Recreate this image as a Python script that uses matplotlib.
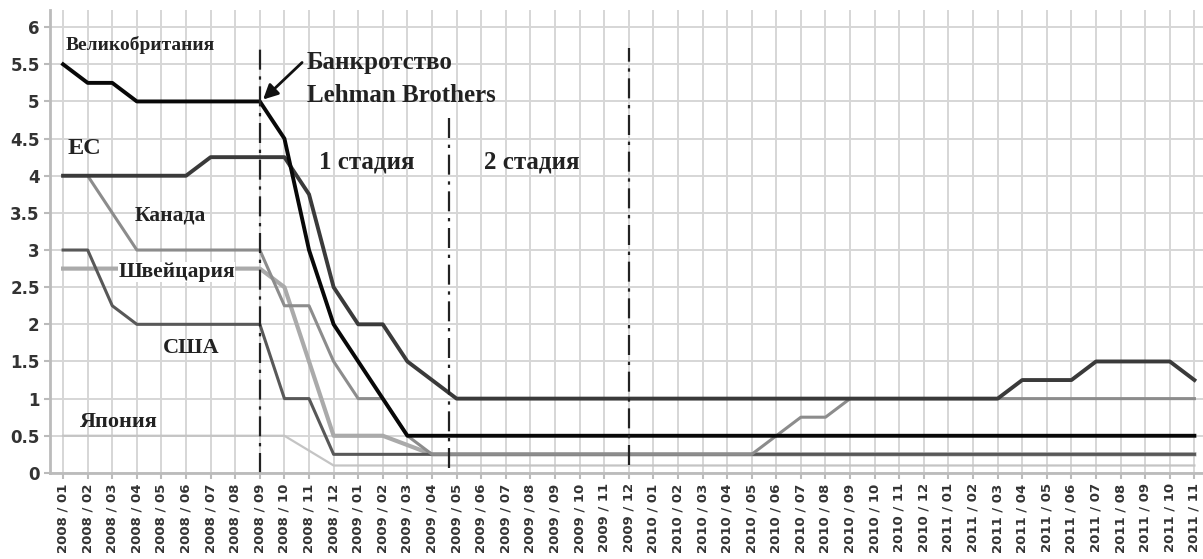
## ставки центральных банков 2008-2011

import matplotlib.pyplot as plt

months = [f"{y} / {m:02d}" for y in range(2008, 2012) for m in range(1, 13)][:47]

uk = [5.5, 5.25, 5.25, 5.0, 5.0, 5.0, 5.0, 5.0, 5.0, 4.5, 3.0, 2.0, 1.5, 1.0, 0.5] + [0.5] * 32
ecb = [4.0, 4.0, 4.0, 4.0, 4.0, 4.0, 4.25, 4.25, 4.25, 4.25, 3.75, 2.5, 2.0, 2.0, 1.5, 1.25] + [1.0] * 22 + \
      [1.0, 1.25, 1.25, 1.25, 1.5, 1.5, 1.5, 1.5, 1.25]
canada = [4.0, 4.0, 3.5, 3.0, 3.0, 3.0, 3.0, 3.0, 3.0, 2.25, 2.25, 1.5, 1.0, 1.0, 0.5] + [0.25] * 13 + \
         [0.25, 0.5, 0.75, 0.75] + [1.0] * 15
swiss = [2.75] * 9 + [2.5, 1.5, 0.5, 0.5, 0.5, 0.375] + [0.25] * 32
usa = [3.0, 3.0, 2.25, 2.0, 2.0, 2.0, 2.0, 2.0, 2.0, 1.0, 1.0] + [0.25] * 36
japan = [0.5] * 10 + [0.3] + [0.1] * 36

x = list(range(len(months)))

fig = plt.figure(figsize=(12.03, 5.59), dpi=100)
ax = fig.add_axes([0.0416, 0.154, 0.958, 0.828])

ax.plot(x, japan, color='#c4c4c4', lw=1.6)
ax.plot(x, swiss, color='#aaaaaa', lw=3)
ax.plot(x, usa, color='#585858', lw=2.2)
ax.plot(x, canada, color='#8c8c8c', lw=2.2)
ax.plot(x, ecb, color='#3a3a3a', lw=2.8)
ax.plot(x, uk, color='#080808', lw=2.8)

# стадии кризиса
dash = (0, (9, 3, 1.5, 3))
ax.plot([8, 8], [0, 5.79], color='#222222', lw=1.6, linestyle=dash)
ax.plot([15.7, 15.7], [0.07, 4.78], color='#222222', lw=1.6, linestyle=dash)
ax.plot([23, 23], [0.1, 5.72], color='#222222', lw=1.6, linestyle=dash)

serif = dict(family='Liberation Serif', fontweight='bold', color='#222222')
ax.text(0.12, 5.76, 'Великобритания', fontsize=14, va='center', ha='left', **serif)
ax.text(0.2, 4.37, 'ЕС', fontsize=17.5, va='center', ha='left', **serif)
ax.text(2.9, 3.47, 'Канада', fontsize=15.5, va='center', ha='left', **serif)
ax.text(2.25, 2.70, 'Швейцария', fontsize=15.5, va='center', ha='left',
        bbox=dict(facecolor='white', edgecolor='none', pad=0), **serif)
ax.text(4.05, 1.68, 'США', fontsize=16, va='center', ha='left', **serif)
ax.text(0.7, 0.69, 'Япония', fontsize=16, va='center', ha='left', **serif)
ax.text(10.4, 4.19, '1 стадия', fontsize=18, va='center', ha='left', **serif)
ax.text(17.1, 4.19, '2 стадия', fontsize=18, va='center', ha='left', **serif)
ax.text(9.9, 5.30, 'Банкротство\nLehman Brothers', fontsize=18, va='center', ha='left',
        linespacing=1.55, **serif)
ax.annotate('', xy=(8.05, 5.0), xytext=(9.8, 5.55),
            arrowprops=dict(arrowstyle='-|>', color='#111111', lw=2, mutation_scale=22))

ax.set_xlim(-0.53, 46.33)
ax.set_ylim(0, 6.23)
ax.set_yticks([i * 0.5 for i in range(13)])
ax.set_yticklabels(['0', '0.5', '1', '1.5', '2', '2.5', '3', '3.5', '4', '4.5', '5', '5.5', '6'],
                   fontsize=12, fontweight='bold', color='#333333')
ax.set_xticks(x)
ax.set_xticklabels(months, rotation=90, fontsize=9.5, fontweight='bold', color='#333333')

ax.grid(True, color='#d6d6d6', lw=1.4)
ax.set_axisbelow(True)
for s in ['top', 'right']:
    ax.spines[s].set_visible(False)
for s in ['left', 'bottom']:
    ax.spines[s].set_color('#bbbbbb')
    ax.spines[s].set_linewidth(2)
ax.tick_params(axis='both', color='#bbbbbb', length=4, width=1.5)

plt.savefig('out.png', dpi=100)
